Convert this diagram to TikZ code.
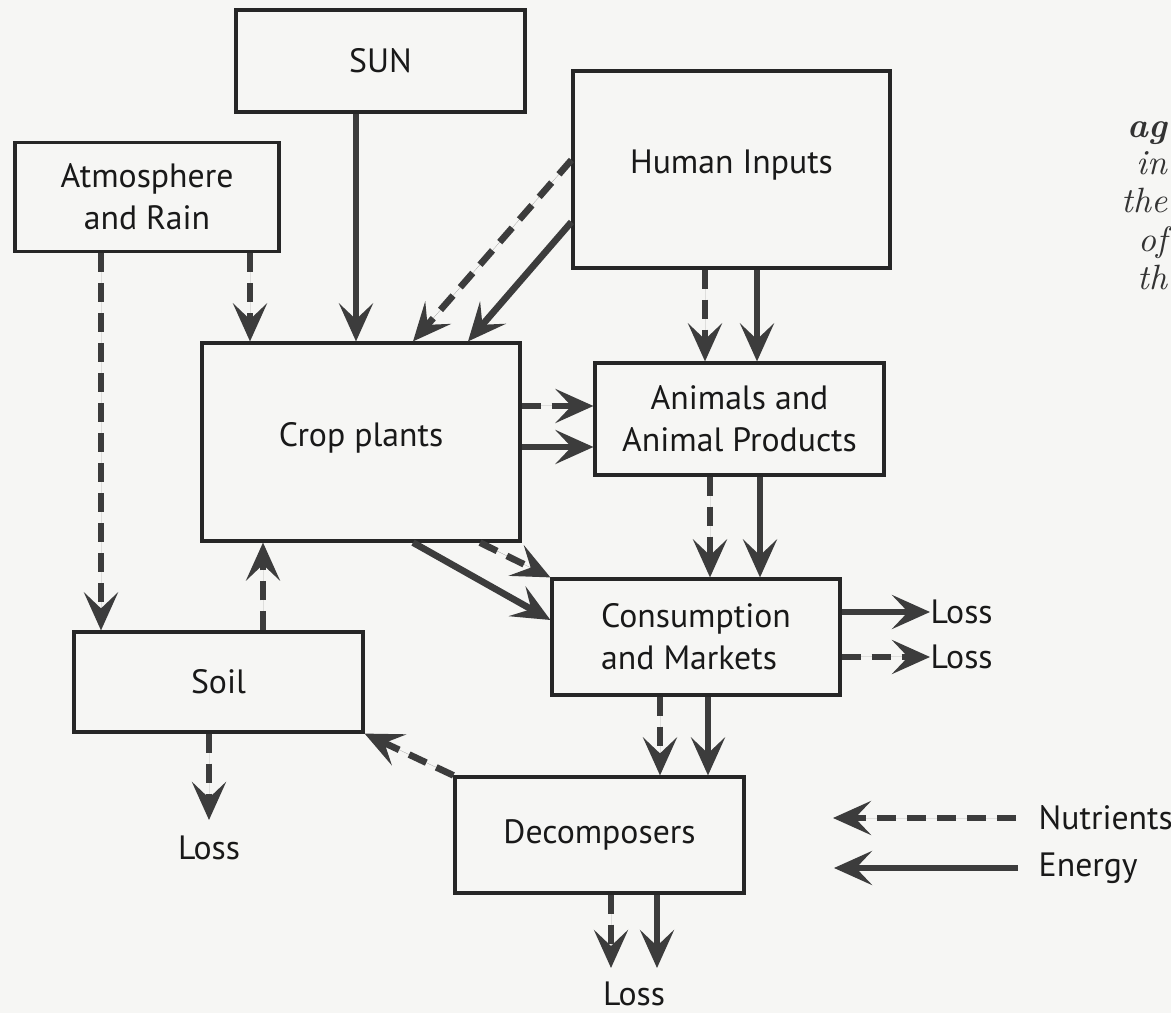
\documentclass[tikz,border=0pt]{standalone}
\usepackage{fontspec}
\setsansfont{PT Sans}
\usetikzlibrary{arrows.meta}
\definecolor{paper}{RGB}{246,246,244}
\definecolor{ink}{RGB}{60,60,60}
\begin{document}
\begin{tikzpicture}[x=0.1mm, y=-0.1mm,
        box/.style={draw=black!85, line width=0.9pt, text=black!90, align=center,
            font=\sffamily\fontsize{9.6}{12}\selectfont, inner sep=0pt},
        lbl/.style={text=black!90, font=\sffamily\fontsize{9.6}{12}\selectfont, inner sep=0pt},
        energy/.style={draw=ink, fill=ink, line width=1.9pt,
            -{Stealth[length=3.8mm, width=3.4mm, inset=1.6mm]}},
        nutrient/.style={energy, dash pattern=on 1.9mm off 1.1mm},
        book/.style={anchor=base east, inner sep=0pt, text=black!80,
            font=\rmfamily\itshape\fontsize{10}{12}\selectfont}]
    \fill[paper] (0,0) rectangle (1171,1013);
    \useasboundingbox (0,0) rectangle (1171,1013);

    \node[box, minimum width=28.9mm, minimum height=10.2mm] (sun) at (380.5,61) {SUN};
    \node[box, minimum width=26.4mm, minimum height=10.9mm] (atmos) at (147,197) {Atmosphere\\and Rain};
    \node[box, minimum width=31.7mm, minimum height=19.7mm] (human) at (731.5,169.5) {\raisebox{1.6mm}{Human Inputs}};
    \node[box, minimum width=31.8mm, minimum height=19.8mm] (crop) at (361,442) {\raisebox{1.6mm}{Crop plants}};
    \node[box, minimum width=28.9mm, minimum height=11.2mm] (animals) at (739.5,419) {Animals and\\Animal Products};
    \node[box, minimum width=28.8mm, minimum height=11.6mm, align=left] (consum) at (696,637) {Consumption\\and Markets};
    \node[box, minimum width=28.9mm, minimum height=10.0mm] (soil) at (218.5,682) {Soil};
    \node[box, minimum width=28.9mm, minimum height=11.6mm] (decomp) at (599.5,835) {Decomposers};

    \draw[energy] (356,0 |- sun.south) -- (356,0 |- crop.north);
    \draw[nutrient] (250,0 |- atmos.south) -- (250,0 |- crop.north);
    \draw[nutrient] (101,0 |- atmos.south) -- (101,0 |- soil.north);
    \draw[nutrient] (human.west |- 0,160) -- (413,0 |- crop.north);
    \draw[energy] (human.west |- 0,222) -- (468,0 |- crop.north);
    \draw[nutrient] (705,0 |- human.south) -- (705,0 |- animals.north);
    \draw[energy] (757,0 |- human.south) -- (757,0 |- animals.north);
    \draw[nutrient] (crop.east |- 0,406) -- (animals.west |- 0,406);
    \draw[energy] (crop.east |- 0,447) -- (animals.west |- 0,447);
    \draw[nutrient] (480,0 |- crop.south) -- (consum.north west);
    \draw[energy] (413,0 |- crop.south) -- (consum.west |- 0,620);
    \draw[nutrient] (263,0 |- soil.north) -- (263,0 |- crop.south);
    \draw[nutrient] (710,0 |- animals.south) -- (710,0 |- consum.north);
    \draw[energy] (760,0 |- animals.south) -- (760,0 |- consum.north);
    \draw[nutrient] (660,0 |- consum.south) -- (660,0 |- decomp.north);
    \draw[energy] (708,0 |- consum.south) -- (708,0 |- decomp.north);
    \draw[nutrient] (decomp.north west) -- (soil.south east);

    \node[lbl, anchor=west] (lossA) at (930,612) {Loss};
    \node[lbl, anchor=west] (lossB) at (930,657) {Loss};
    \draw[energy] (consum.east |- lossA) -- (lossA.west);
    \draw[nutrient] (consum.east |- lossB) -- (lossB.west);

    \coordinate (soilOut) at (209,820);
    \draw[nutrient] (soil.south -| soilOut) -- (soilOut) node[lbl, below=1.3mm] (lossC) {Loss};

    \node[lbl] (lossD) at (634,994) {Loss};
    \coordinate (decOutA) at (611,968);
    \coordinate (decOutB) at (657,968);
    \draw[nutrient] (decomp.south -| decOutA) -- (decOutA);
    \draw[energy] (decomp.south -| decOutB) -- (decOutB);

    \node[lbl, anchor=west] (nutl) at (1038,818) {Nutrients};
    \node[lbl, anchor=west] (enl) at (1038,868) {Energy};
    \coordinate (nutTip) at (833,818);
    \coordinate (enTip) at (834,868);
    \draw[nutrient, shorten <=2.2mm] (nutl.west) -- (nutTip);
    \draw[energy, shorten <=2mm] (enl.west) -- (enTip);

    \node[book, font=\rmfamily\bfseries\itshape\fontsize{10}{12}\selectfont] (pa) at (1168,138) {ag};
    \node[book] (pb) at (1168,175) {in};
    \node[book] (pc) at (1168,213) {the};
    \node[book] (pd) at (1168,252) {of};
    \node[book] (pe) at (1168,290) {th};
\end{tikzpicture}
\end{document}
